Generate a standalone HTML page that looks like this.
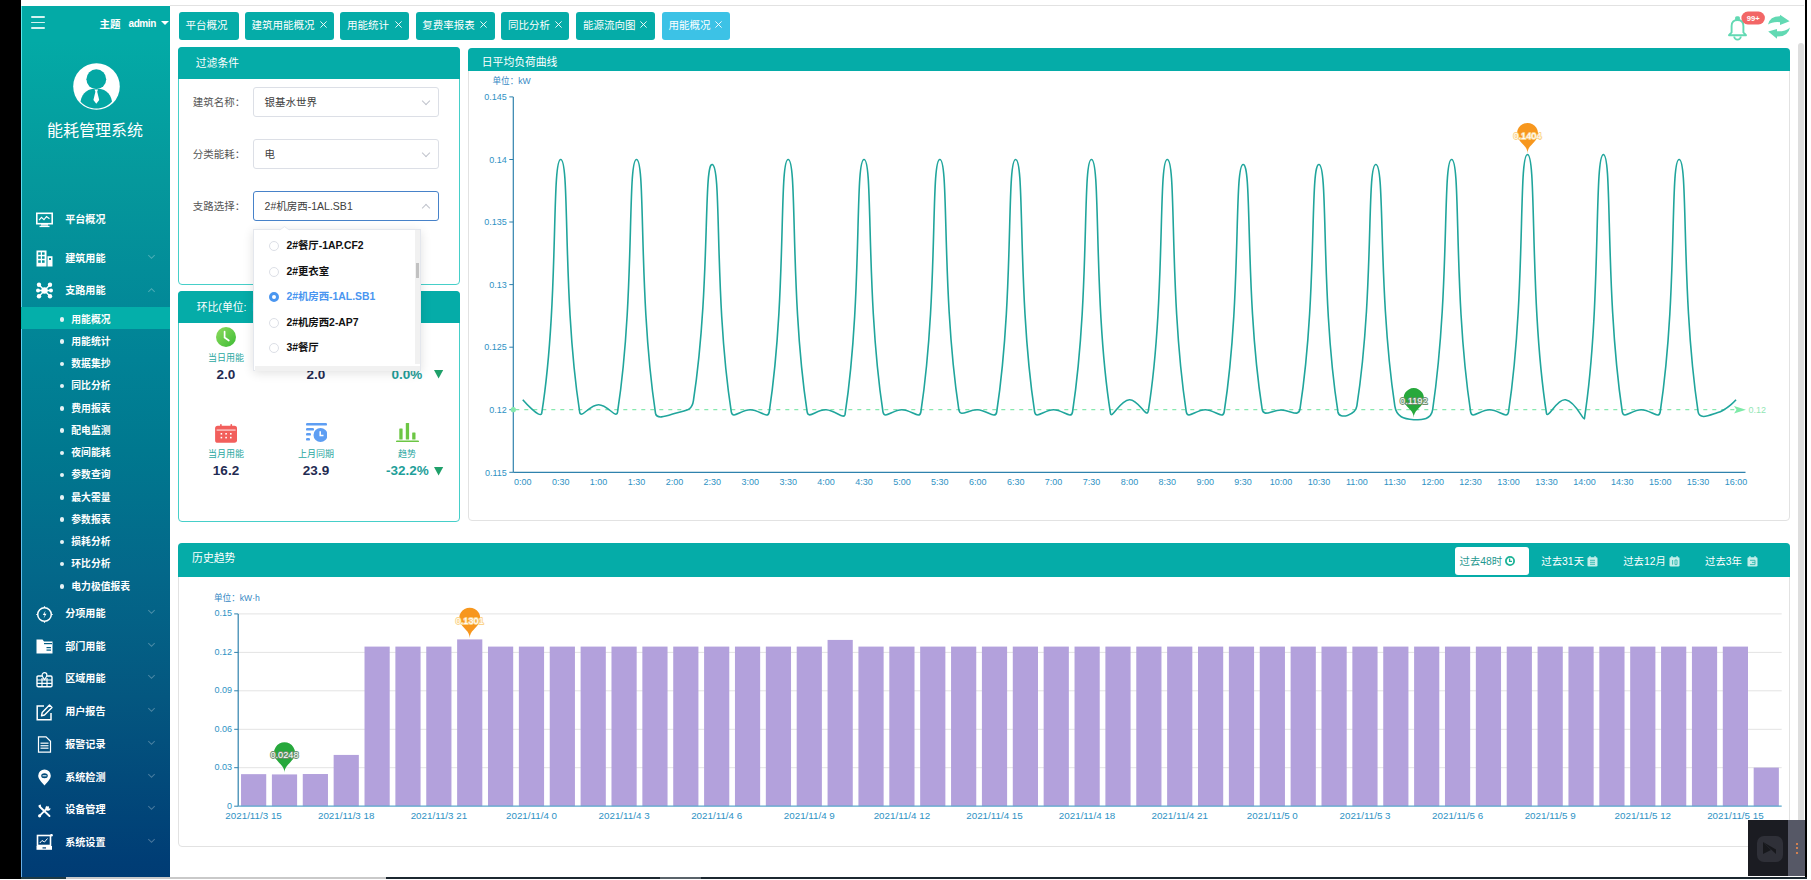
<!DOCTYPE html>
<html lang="zh-CN">
<head>
<meta charset="utf-8">
<title>能耗管理系统</title>
<style>
*{margin:0;padding:0;box-sizing:border-box;}
html,body{width:1811px;height:880px;overflow:hidden;background:#fff;}
body{position:relative;font-family:"Liberation Sans","Noto Sans CJK SC",sans-serif;color:#333;}
.abs{position:absolute;}
#lblack{left:0;top:0;width:21px;height:879px;background:#000;}
#rblack{left:1805px;top:0;width:2.3px;height:878px;background:#000;}
#topline{left:170px;top:5px;width:1634px;height:1px;background:#e2e2e2;}
#botline{left:21px;top:877px;width:364.5px;height:2px;background:#c9c9c9;}
#botline3{left:385.5px;top:877px;width:1421.5px;height:2px;background:#1c2830;}
#botline2{left:21px;top:877px;width:45px;height:2px;background:#1f3a44;}
#side{left:21px;top:6px;width:149px;height:871px;overflow:hidden;
  background:linear-gradient(180deg,#03aaa6 0%,#03aaa6 4%,#05989c 20%,#018296 40.6%,#00788f 51%,#03688a 64.8%,#045780 79.3%,#003d75 98.4%,#003c74 100%);}
#side .edge{left:0;top:0;width:1px;height:100%;background:linear-gradient(180deg,#5ee8ea 0%,#5ccff0 40%,#63b8ec 75%,#6aaee6 100%);}
.cw{color:#fff;}
.ham{left:10px;height:1.6px;width:14px;background:#d4f3f1;border-radius:1px;}
.sm{position:absolute;left:44.2px;font-size:10.1px;color:#fff;font-weight:bold;white-space:nowrap;line-height:14px;}
.ssub{position:absolute;left:50.3px;font-size:9.8px;color:#fff;font-weight:bold;white-space:nowrap;line-height:14px;}
.dot{position:absolute;left:38.5px;width:4.5px;height:4.5px;border-radius:50%;background:#e6f2f5;}
.chev{position:absolute;left:127.6px;width:5px;height:5px;border-right:1px solid rgba(255,255,255,.28);border-bottom:1px solid rgba(255,255,255,.28);transform:rotate(45deg);}
.chev.up{transform:rotate(-135deg);}
.ico{position:absolute;left:15px;width:17px;height:17px;}
/* tabs */
.tab{position:absolute;top:12px;height:27.5px;background:#05aca8;border-radius:3px;color:#fff;font-size:10.5px;line-height:27.5px;white-space:nowrap;}
.tab span{position:absolute;top:0;}
.tab .x{position:absolute;top:8.6px;}
/* cards */
.card{position:absolute;background:#fff;border-radius:4px;}
.card .hd{position:absolute;left:-1px;top:-1px;right:-1px;border-radius:4px 4px 0 0;background:#05aca8;color:#fff;font-size:10.8px;white-space:nowrap;}
.lbl{position:absolute;font-size:10.5px;color:#555;white-space:nowrap;line-height:14px;}
.inp{position:absolute;left:253px;width:185.5px;height:29.6px;border:1px solid #dcdfe6;border-radius:3px;background:#fff;font-size:10.5px;color:#404040;line-height:28px;padding-left:10.6px;white-space:nowrap;}
.inp .cv{position:absolute;left:168.5px;top:9.5px;width:6px;height:6px;border-right:1px solid #c0c4cc;border-bottom:1px solid #c0c4cc;transform:rotate(45deg);}
.inp .cv.up{top:13px;transform:rotate(-135deg);}
svg text{font-family:"Liberation Sans","Noto Sans CJK SC",sans-serif;}
.al{font-size:9px;fill:#2e92c4;}
.bl{font-size:9px;fill:#2e92c4;}
.xl{font-size:9.8px;fill:#2e92c4;}
.ml{font-size:9px;fill:#92e6b4;}
.pl{font-size:9.2px;fill:#fff;stroke-width:1.8px;paint-order:stroke;stroke-linejoin:round;}
.po{stroke:#fbd38a;}
.pg{stroke:#6b8f6e;}
.hv{position:absolute;font-size:13.5px;font-weight:bold;color:#1f2b52;white-space:nowrap;line-height:16px;text-align:center;}
.hl{position:absolute;font-size:9px;color:#2aa7a1;white-space:nowrap;line-height:12px;text-align:center;}
.dd{position:absolute;font-size:10.4px;font-weight:bold;color:#111;white-space:nowrap;line-height:14px;}
.rad{position:absolute;left:268.5px;width:10px;height:10px;border-radius:50%;border:1px solid #dcdfe6;background:#fff;}
.btn{position:absolute;top:547.8px;height:28px;font-size:10.4px;line-height:28px;color:#fff;white-space:nowrap;}
</style>
</head>
<body>
<div class="abs" id="lblack"></div>
<div class="abs" id="topline"></div>

<!-- ============ SIDEBAR ============ -->
<div class="abs" id="side">
  <div class="abs edge"></div>
  <div class="abs ham" style="top:10.2px"></div>
  <div class="abs ham" style="top:15.7px"></div>
  <div class="abs ham" style="top:21.2px"></div>
  <div class="abs cw" style="left:78.5px;top:10.8px;font-size:10.5px;font-weight:bold;line-height:14px;white-space:nowrap;">主题</div>
  <div class="abs cw" style="left:107.5px;top:11px;font-size:10px;font-weight:bold;line-height:14px;letter-spacing:-0.4px;">admin</div>
  <div class="abs" style="left:139.8px;top:15.2px;width:0;height:0;border-left:4px solid transparent;border-right:4px solid transparent;border-top:4.8px solid #fff;"></div>
  <!-- avatar -->
  <svg class="abs" style="left:51.5px;top:57px" width="47" height="47" viewBox="0 0 47 47">
    <circle cx="23.5" cy="23.5" r="23.3" fill="#fff"/>
    <circle cx="23.3" cy="16.2" r="9.9" fill="#04a7a4"/>
    <path d="M7.5,38.5 C9,29 16,25.5 23.3,25.5 C30.6,25.5 37.5,29 39,38.5 C35,43.2 29.5,45.5 23.3,45.5 C17,45.5 11.5,43.2 7.5,38.5Z" fill="#04a7a4"/>
    <path d="M21.5,26.5 L25,26.5 L24.2,28.8 L26.2,37 L23.3,40.8 L20.4,37 L22.4,28.8Z" fill="#fff"/>
  </svg>
  <div class="abs cw" style="left:26.1px;top:114.5px;font-size:16px;line-height:20px;white-space:nowrap;">能耗管理系统</div>

  <!-- menu -->
  <svg class="ico" style="top:205.5px" viewBox="0 0 17 17"><rect x="0.8" y="1.3" width="15.4" height="10.4" fill="none" stroke="#fff" stroke-width="1.6"/><path d="M3,8.2 L5.5,5.3 L8,7.6 L10.5,4.5 L13.5,6.8" fill="none" stroke="#fff" stroke-width="1.1"/><rect x="5" y="12.2" width="7" height="1.4" fill="#fff"/><rect x="3.5" y="13.8" width="10" height="1.3" fill="#fff"/></svg>
  <div class="sm" style="top:206.5px">平台概况</div>

  <svg class="ico" style="top:243.5px" viewBox="0 0 17 17"><path d="M0.5,0.5 H10.5 V16.5 H0.5Z" fill="#fff"/><rect x="2.2" y="2.3" width="2.6" height="2.5" fill="#04939b"/><rect x="6" y="2.3" width="2.6" height="2.5" fill="#04939b"/><rect x="2.2" y="6.3" width="2.6" height="2.5" fill="#04939b"/><rect x="6" y="6.3" width="2.6" height="2.5" fill="#04939b"/><rect x="2.2" y="10.3" width="2.6" height="2.5" fill="#04939b"/><rect x="6" y="10.3" width="2.6" height="2.5" fill="#04939b"/><rect x="11.5" y="6.2" width="5" height="10.3" fill="#fff"/><rect x="13" y="8" width="2" height="2" fill="#04939b"/></svg>
  <div class="sm" style="top:245.5px">建筑用能</div>
  <div class="chev" style="top:247px"></div>

  <svg class="ico" style="top:276px" viewBox="0 0 17 17"><g fill="#fff"><circle cx="3" cy="2.8" r="2.2"/><circle cx="14" cy="2.8" r="2.2"/><circle cx="2" cy="8.5" r="2"/><circle cx="15" cy="8.5" r="2"/><circle cx="3" cy="14.2" r="2.2"/><circle cx="14" cy="14.2" r="2.2"/><circle cx="8.5" cy="8.5" r="3.2"/></g><path d="M3,2.8 L8.5,8.5 L14,2.8 M2,8.5 H15 M3,14.2 L8.5,8.5 L14,14.2" stroke="#fff" stroke-width="1.3" fill="none"/></svg>
  <div class="sm" style="top:278px">支路用能</div>
  <div class="chev up" style="top:283px"></div>

  <div class="abs" style="left:0;top:300.5px;width:149px;height:22.3px;background:#04afaa;"></div>
  <div class="dot" style="top:311px"></div><div class="ssub" style="top:306.5px">用能概况</div>
  <div class="dot" style="top:333.3px"></div><div class="ssub" style="top:328.8px">用能统计</div>
  <div class="dot" style="top:355.6px"></div><div class="ssub" style="top:351.1px">数据集抄</div>
  <div class="dot" style="top:377.9px"></div><div class="ssub" style="top:373.4px">同比分析</div>
  <div class="dot" style="top:400.1px"></div><div class="ssub" style="top:395.6px">费用报表</div>
  <div class="dot" style="top:422.4px"></div><div class="ssub" style="top:417.9px">配电监测</div>
  <div class="dot" style="top:444.6px"></div><div class="ssub" style="top:440.1px">夜间能耗</div>
  <div class="dot" style="top:466.9px"></div><div class="ssub" style="top:462.4px">参数查询</div>
  <div class="dot" style="top:489.1px"></div><div class="ssub" style="top:484.6px">最大需量</div>
  <div class="dot" style="top:511.4px"></div><div class="ssub" style="top:506.9px">参数报表</div>
  <div class="dot" style="top:533.6px"></div><div class="ssub" style="top:529.1px">损耗分析</div>
  <div class="dot" style="top:555.9px"></div><div class="ssub" style="top:551.4px">环比分析</div>
  <div class="dot" style="top:578.1px"></div><div class="ssub" style="top:573.6px">电力极值报表</div>

  <svg class="ico" style="top:599.5px" viewBox="0 0 17 17"><circle cx="8.5" cy="8.5" r="6.8" fill="none" stroke="#fff" stroke-width="1.5"/><path d="M8.5,0.3 V2 M8.5,15 V16.7 M0.3,8.5 H2 M15,8.5 H16.7" stroke="#fff" stroke-width="1.2"/><path d="M9.6,4.6 L6.8,9.1 H8.7 L7.6,12.4 L10.5,7.8 H8.6Z" fill="#fff"/></svg>
  <div class="sm" style="top:601px">分项用能</div>
  <div class="chev" style="top:602px"></div>

  <svg class="ico" style="top:632px" viewBox="0 0 17 17"><path d="M0.5,1.5 H6.5 L8,3.5 H16.5 V15.5 H0.5Z" fill="#fff"/><rect x="8" y="5" width="8" height="1.2" fill="#035f85"/><rect x="10.5" y="9" width="4.5" height="1.2" fill="#035f85"/><rect x="10.5" y="11.5" width="4.5" height="1.2" fill="#035f85"/></svg>
  <div class="sm" style="top:633.7px">部门用能</div>
  <div class="chev" style="top:634.7px"></div>

  <svg class="ico" style="top:664.5px" viewBox="0 0 17 17"><path d="M6,5 H2.2 Q1,5 1,6.2 V14.6 Q1,15.8 2.2,15.8 H14.8 Q16,15.8 16,14.6 V6.2 Q16,5 14.8,5 H11" fill="none" stroke="#fff" stroke-width="1.4"/><path d="M1,9 H16 M1,12.4 H16 M6,7 V15.8 M11,7 V15.8" stroke="#fff" stroke-width="1.2"/><path d="M8.5,8.6 C7.2,6.8 6.1,5.6 6.1,4 A2.4,2.4 0 0 1 10.9,4 C10.9,5.6 9.8,6.8 8.5,8.6Z" fill="none" stroke="#fff" stroke-width="1.2"/></svg>
  <div class="sm" style="top:666.4px">区域用能</div>
  <div class="chev" style="top:667.4px"></div>

  <svg class="ico" style="top:697.5px" viewBox="0 0 17 17"><path d="M8,2 H1.2 V15.8 H15 V9" fill="none" stroke="#fff" stroke-width="1.5"/><path d="M13.5,1 L16,3.5 L8.5,11 L5.5,11.8 L6.2,8.5Z" fill="none" stroke="#fff" stroke-width="1.4" stroke-linejoin="round"/></svg>
  <div class="sm" style="top:699px">用户报告</div>
  <div class="chev" style="top:700px"></div>

  <svg class="ico" style="top:730px" viewBox="0 0 17 17"><path d="M2.5,0.8 H10 L14.5,5.3 V16.2 H2.5Z" fill="none" stroke="#fff" stroke-width="1.2"/><rect x="4.5" y="6.5" width="8" height="1.4" fill="#fff" opacity=".85"/><rect x="4.5" y="9" width="8" height="1.4" fill="#fff" opacity=".85"/><rect x="4.5" y="11.5" width="8" height="1.4" fill="#fff" opacity=".85"/></svg>
  <div class="sm" style="top:731.9px">报警记录</div>
  <div class="chev" style="top:732.9px"></div>

  <svg class="ico" style="top:762.5px" viewBox="0 0 17 17"><path d="M8.5,16.5 C5,12.5 2.2,9.8 2.2,6.8 A6.3,6.3 0 0 1 14.8,6.8 C14.8,9.8 12,12.5 8.5,16.5Z" fill="#fff"/><ellipse cx="8.5" cy="6.8" rx="3.3" ry="2.5" fill="#024c7b"/><rect x="6.5" y="6.3" width="4" height="1" fill="#fff"/></svg>
  <div class="sm" style="top:764.9px">系统检测</div>
  <div class="chev" style="top:765.9px"></div>

  <svg class="ico" style="top:795.5px" viewBox="0 0 17 17"><path d="M3.5,4.5 L13.5,14" stroke="#fff" stroke-width="1.9" stroke-linecap="round"/><path d="M2.2,3.2 L4.8,2.6 L5.2,5.4Z" fill="#fff"/><path d="M12.2,5.2 L4,13.4" stroke="#fff" stroke-width="1.9" stroke-linecap="round"/><path d="M11,3.8 A2.6,2.6 0 1 0 14.6,6.2 L13,6.4 L11.6,5 Z" fill="#fff"/><circle cx="3.6" cy="13.8" r="1.6" fill="#fff"/></svg>
  <div class="sm" style="top:797.1px">设备管理</div>
  <div class="chev" style="top:798.1px"></div>

  <svg class="ico" style="top:828px" viewBox="0 0 17 17"><rect x="1.5" y="1.5" width="13" height="10" fill="none" stroke="#fff" stroke-width="1.6"/><path d="M3.8,9 L6,6.5 L8.5,8 L11.5,4.5" stroke="#fff" stroke-width="1" fill="none"/><path d="M0.5,12 H16 V15.8 H0.5Z" fill="#fff"/><rect x="6.5" y="13.3" width="3.5" height="1.2" fill="#013f77"/><circle cx="15.5" cy="1.2" r="1.3" fill="#fff"/></svg>
  <div class="sm" style="top:830.1px">系统设置</div>
  <div class="chev" style="top:831.1px"></div>
</div>

<!-- ============ TABS ============ -->
<div class="tab" style="left:178.7px;width:60.2px;"><span style="left:6.8px">平台概况</span></div>
<div class="tab" style="left:244.7px;width:89.8px;"><span style="left:6.8px">建筑用能概况</span><svg class="x" style="left:75.2px" width="7" height="7" viewBox="0 0 7 7"><path d="M0.4,0.4 L6.6,6.6 M6.6,0.4 L0.4,6.6" stroke="#fff" stroke-width="0.9"/></svg></div>
<div class="tab" style="left:340.3px;width:69.2px;"><span style="left:6.8px">用能统计</span><svg class="x" style="left:54.6px" width="7" height="7" viewBox="0 0 7 7"><path d="M0.4,0.4 L6.6,6.6 M6.6,0.4 L0.4,6.6" stroke="#fff" stroke-width="0.9"/></svg></div>
<div class="tab" style="left:415.5px;width:79.3px;"><span style="left:6.8px">复费率报表</span><svg class="x" style="left:64.7px" width="7" height="7" viewBox="0 0 7 7"><path d="M0.4,0.4 L6.6,6.6 M6.6,0.4 L0.4,6.6" stroke="#fff" stroke-width="0.9"/></svg></div>
<div class="tab" style="left:501.2px;width:68.3px;"><span style="left:6.8px">同比分析</span><svg class="x" style="left:53.7px" width="7" height="7" viewBox="0 0 7 7"><path d="M0.4,0.4 L6.6,6.6 M6.6,0.4 L0.4,6.6" stroke="#fff" stroke-width="0.9"/></svg></div>
<div class="tab" style="left:576.2px;width:78.7px;"><span style="left:6.8px">能源流向图</span><svg class="x" style="left:64.1px" width="7" height="7" viewBox="0 0 7 7"><path d="M0.4,0.4 L6.6,6.6 M6.6,0.4 L0.4,6.6" stroke="#fff" stroke-width="0.9"/></svg></div>
<div class="tab" style="left:661.8px;width:68.2px;background:#3cc2e6;"><span style="left:6.8px">用能概况</span><svg class="x" style="left:53.6px" width="7" height="7" viewBox="0 0 7 7"><path d="M0.4,0.4 L6.6,6.6 M6.6,0.4 L0.4,6.6" stroke="#fff" stroke-width="0.9"/></svg></div>

<!-- bell & refresh -->
<svg class="abs" style="left:1724px;top:10px" width="70" height="32" viewBox="0 0 70 32">
  <path d="M5,25.2 L7.6,22.4 V16 C7.6,12.1 10,10 13.5,10 C17,10 19.4,12.1 19.4,16 V22.4 L22,25.2 Z" fill="none" stroke="#62d9b3" stroke-width="1.9" stroke-linejoin="round"/>
  <rect x="11.1" y="6.2" width="4.8" height="4.6" rx="1.6" fill="#62d9b3"/>
  <path d="M10.2,26.4 A3.3,3.3 0 0 0 16.8,26.4" fill="none" stroke="#62d9b3" stroke-width="1.8"/>
  <rect x="17.4" y="1.5" width="23.5" height="12.9" rx="6.45" fill="#f26666"/>
  <text x="29.2" y="10.8" text-anchor="middle" style="font-size:7.6px;font-weight:bold;fill:#fff;">99+</text>
  <path d="M44,14.6 Q45.8,6.2 56,6.3 L56,4.8 L65.6,11.3 L56,15 L56,12.2 Q48,11.6 44,14.6Z" fill="#62d9b3"/>
  <path d="M66,17.4 Q64.2,26.6 53,26.5 L53,28.8 L44.2,21.4 L53,18.9 L53,21.3 Q61.5,21.6 66,17.4Z" fill="#62d9b3"/>
</svg>

<!-- scrollbar -->
<div class="abs" style="left:1797.8px;top:43.4px;width:6px;height:833px;background:#dedede;border-radius:3px 3px 0 0;"></div>
<div class="abs" id="rblack"></div>

<!-- ============ FILTER CARD ============ -->
<div class="card" style="left:178px;top:47.3px;width:282px;height:237.9px;border:1px solid #46cfc9;">
  <div class="hd" style="height:32px;line-height:33.5px;padding-left:17.8px;">过滤条件</div>
</div>
<div class="lbl" style="left:192.8px;top:94.8px;">建筑名称：</div>
<div class="inp" style="top:87px;">银基水世界<div class="cv"></div></div>
<div class="lbl" style="left:192.8px;top:146.8px;">分类能耗：</div>
<div class="inp" style="top:139px;">电<div class="cv"></div></div>
<div class="lbl" style="left:192.8px;top:198.8px;">支路选择：</div>
<div class="inp" style="top:191px;border-color:#4782c9;">2#机房西-1AL.SB1<div class="cv up"></div></div>

<!-- ============ 环比 CARD ============ -->
<div class="card" style="left:178px;top:290.8px;width:282px;height:231px;border:1px solid #46cfc9;">
  <div class="hd" style="height:32px;line-height:32px;padding-left:18.7px;">环比(单位:<span style="margin-left:6px">kWh)</span></div>
</div>
<!-- icons row 1 -->
<svg class="abs" style="left:216px;top:327px" width="20" height="20" viewBox="0 0 20 20"><defs><linearGradient id="gclk" x1="0" y1="0" x2="1" y2="1"><stop offset="0" stop-color="#8fdc5e"/><stop offset="1" stop-color="#3cbb35"/></linearGradient></defs><circle cx="10" cy="10" r="10" fill="url(#gclk)"/><path d="M8.6,4.5 V10.5 L12.8,13.5" fill="none" stroke="#fff" stroke-width="1.7" stroke-linecap="round"/></svg>
<div class="hl" style="left:196px;width:60px;top:351.7px;">当日用能</div>
<div class="hv" style="left:196px;width:60px;top:367px;">2.0</div>
<div class="hl" style="left:286px;width:60px;top:351.7px;">上日用能</div>
<div class="hv" style="left:286px;width:60px;top:367px;">2.0</div>
<div class="hv" style="left:391.5px;top:367px;color:#1fa09a;">0.0%</div>
<svg class="abs" style="left:434px;top:370px" width="10" height="9" viewBox="0 0 10 9"><path d="M0,0 H9.2 L4.6,8.4Z" fill="#1fa06a"/></svg>

<!-- icons row 2 -->
<svg class="abs" style="left:215px;top:423.5px" width="22.2" height="19" viewBox="0 0 22 19"><rect x="0" y="1.8" width="22" height="17" rx="2.6" fill="#f25f5c"/><rect x="5" y="0" width="1.6" height="4" rx=".8" fill="#f25f5c"/><rect x="15.4" y="0" width="1.6" height="4" rx=".8" fill="#f25f5c"/><rect x="1.5" y="5.6" width="19" height="0.9" fill="#fff"/><g fill="#fff"><rect x="5.5" y="9" width="1.6" height="1.6"/><rect x="10.2" y="9" width="1.6" height="1.6"/><rect x="14.9" y="9" width="1.6" height="1.6"/><rect x="5.5" y="12.8" width="1.6" height="1.6"/><rect x="10.2" y="12.8" width="1.6" height="1.6"/><rect x="14.9" y="12.8" width="1.6" height="1.6"/></g></svg>
<div class="hl" style="left:196px;width:60px;top:447.6px;">当月用能</div>
<div class="hv" style="left:196px;width:60px;top:463px;">16.2</div>

<svg class="abs" style="left:305.5px;top:422.5px" width="21.5" height="20" viewBox="0 0 21.5 20"><rect x="0" y="0" width="21" height="2.6" rx="1.2" fill="#5e9ef3"/><rect x="0" y="5" width="8" height="2.6" rx="1.2" fill="#5e9ef3"/><rect x="0" y="10" width="5" height="2.6" rx="1.2" fill="#5e9ef3"/><rect x="0" y="15" width="4" height="2.6" rx="1.2" fill="#5e9ef3"/><circle cx="14.5" cy="12" r="7" fill="#5e9ef3"/><path d="M14.2,8.3 V12.4 H17.5" fill="none" stroke="#fff" stroke-width="1.5"/></svg>
<div class="hl" style="left:286px;width:60px;top:447.6px;">上月同期</div>
<div class="hv" style="left:286px;width:60px;top:463px;">23.9</div>

<svg class="abs" style="left:396px;top:422.5px" width="23" height="19.5" viewBox="0 0 23 19.5"><g fill="#6cc644"><rect x="3.3" y="5.5" width="3.3" height="11" rx=".5"/><rect x="9.8" y="0" width="3.3" height="16.5" rx=".5"/><rect x="16.2" y="9.5" width="3.3" height="7" rx=".5"/><rect x="0" y="17.5" width="23" height="2" rx="1"/></g></svg>
<div class="hl" style="left:377px;width:60px;top:447.6px;">趋势</div>
<div class="hv" style="left:386px;top:463px;color:#1fa09a;">-32.2%</div>
<svg class="abs" style="left:434px;top:466.5px" width="10" height="9" viewBox="0 0 10 9"><path d="M0,0 H9.2 L4.6,8.4Z" fill="#1fa06a"/></svg>

<!-- ============ LINE CHART CARD ============ -->
<div class="card" style="left:467.8px;top:48.2px;width:1322.5px;height:473.3px;border:1px solid #e2e2e2;">
  <div class="hd" style="height:22.5px;line-height:29px;padding-left:14px;">日平均负荷曲线</div>
</div>
<div class="abs" style="left:492.5px;top:74.5px;font-size:8.6px;color:#3588c4;line-height:12px;white-space:nowrap;">单位：kW</div>

<!-- ============ HISTORY CARD ============ -->
<div class="card" style="left:177.8px;top:543.4px;width:1612px;height:303.7px;border:1px solid #e2e2e2;">
  <div class="hd" style="height:33.2px;line-height:31px;padding-left:14.3px;">历史趋势</div>
</div>
<div class="abs" style="left:1455.2px;top:547px;width:74.3px;height:28px;background:#fff;border-radius:3px;"></div>
<div class="btn" style="left:1459.5px;color:#1f9890;">过去48时</div>
<svg class="abs" style="left:1504.5px;top:556px" width="10" height="10" viewBox="0 0 10 10"><circle cx="5" cy="5" r="4.1" fill="none" stroke="#1cb397" stroke-width="1.8"/><path d="M4.6,2.6 V5.4 H7" fill="none" stroke="#1cb397" stroke-width="1.3"/></svg>
<div class="btn" style="left:1541.3px;">过去31天</div>
<div class="btn" style="left:1623.2px;">过去12月</div>
<div class="btn" style="left:1705px;">过去3年</div>
<svg class="abs" style="left:1586.5px;top:555.5px" width="11" height="11" viewBox="0 0 11 11"><rect x=".5" y="1.3" width="10" height="9.2" rx="1.3" fill="#c4eeea"/><rect x="2.3" y="0" width="1.3" height="2.6" rx=".6" fill="#c4eeea"/><rect x="7.4" y="0" width="1.3" height="2.6" rx=".6" fill="#c4eeea"/><path d="M3,4.3 H8 M3,6.3 H8 M3,8.3 H8" stroke="#3cbcb4" stroke-width="1"/></svg>
<svg class="abs" style="left:1668.5px;top:555.5px" width="11" height="11" viewBox="0 0 11 11"><rect x=".5" y="1.3" width="10" height="9.2" rx="1.3" fill="#c4eeea"/><rect x="2.3" y="0" width="1.3" height="2.6" rx=".6" fill="#c4eeea"/><rect x="7.4" y="0" width="1.3" height="2.6" rx=".6" fill="#c4eeea"/><path d="M3.6,4 V8.6 M6,4 H8 V8.6 H6Z" stroke="#3cbcb4" stroke-width="1" fill="none"/></svg>
<svg class="abs" style="left:1746.5px;top:555.5px" width="11" height="11" viewBox="0 0 11 11"><rect x=".5" y="1.3" width="10" height="9.2" rx="1.3" fill="#c4eeea"/><rect x="2.3" y="0" width="1.3" height="2.6" rx=".6" fill="#c4eeea"/><rect x="7.4" y="0" width="1.3" height="2.6" rx=".6" fill="#c4eeea"/><path d="M3,4.3 H8 V8.6 H3 M5,6.4 H8" stroke="#3cbcb4" stroke-width="1" fill="none"/></svg>
<div class="abs" style="left:214px;top:591.5px;font-size:8.6px;color:#3588c4;line-height:12px;white-space:nowrap;">单位：kW·h</div>

<!-- ============ CHART SVG ============ -->
<svg class="abs" style="left:0;top:0;" width="1811" height="880" viewBox="0 0 1811 880">
<line x1="509.3" y1="96.9" x2="513.3" y2="96.9" stroke="#2f82ad" stroke-width="1"/>
<text x="506.8" y="100.1" text-anchor="end" class="al">0.145</text>
<line x1="509.3" y1="159.5" x2="513.3" y2="159.5" stroke="#2f82ad" stroke-width="1"/>
<text x="506.8" y="162.7" text-anchor="end" class="al">0.14</text>
<line x1="509.3" y1="222.0" x2="513.3" y2="222.0" stroke="#2f82ad" stroke-width="1"/>
<text x="506.8" y="225.2" text-anchor="end" class="al">0.135</text>
<line x1="509.3" y1="284.6" x2="513.3" y2="284.6" stroke="#2f82ad" stroke-width="1"/>
<text x="506.8" y="287.8" text-anchor="end" class="al">0.13</text>
<line x1="509.3" y1="347.2" x2="513.3" y2="347.2" stroke="#2f82ad" stroke-width="1"/>
<text x="506.8" y="350.4" text-anchor="end" class="al">0.125</text>
<line x1="509.3" y1="409.7" x2="513.3" y2="409.7" stroke="#2f82ad" stroke-width="1"/>
<text x="506.8" y="412.9" text-anchor="end" class="al">0.12</text>
<line x1="509.3" y1="472.3" x2="513.3" y2="472.3" stroke="#2f82ad" stroke-width="1"/>
<text x="506.8" y="475.5" text-anchor="end" class="al">0.115</text>
<text x="522.8" y="485.3" text-anchor="middle" class="al">0:00</text>
<text x="560.7" y="485.3" text-anchor="middle" class="al">0:30</text>
<text x="598.6" y="485.3" text-anchor="middle" class="al">1:00</text>
<text x="636.5" y="485.3" text-anchor="middle" class="al">1:30</text>
<text x="674.4" y="485.3" text-anchor="middle" class="al">2:00</text>
<text x="712.3" y="485.3" text-anchor="middle" class="al">2:30</text>
<text x="750.3" y="485.3" text-anchor="middle" class="al">3:00</text>
<text x="788.2" y="485.3" text-anchor="middle" class="al">3:30</text>
<text x="826.1" y="485.3" text-anchor="middle" class="al">4:00</text>
<text x="864.0" y="485.3" text-anchor="middle" class="al">4:30</text>
<text x="901.9" y="485.3" text-anchor="middle" class="al">5:00</text>
<text x="939.8" y="485.3" text-anchor="middle" class="al">5:30</text>
<text x="977.7" y="485.3" text-anchor="middle" class="al">6:00</text>
<text x="1015.7" y="485.3" text-anchor="middle" class="al">6:30</text>
<text x="1053.6" y="485.3" text-anchor="middle" class="al">7:00</text>
<text x="1091.5" y="485.3" text-anchor="middle" class="al">7:30</text>
<text x="1129.4" y="485.3" text-anchor="middle" class="al">8:00</text>
<text x="1167.3" y="485.3" text-anchor="middle" class="al">8:30</text>
<text x="1205.2" y="485.3" text-anchor="middle" class="al">9:00</text>
<text x="1243.1" y="485.3" text-anchor="middle" class="al">9:30</text>
<text x="1281.1" y="485.3" text-anchor="middle" class="al">10:00</text>
<text x="1319.0" y="485.3" text-anchor="middle" class="al">10:30</text>
<text x="1356.9" y="485.3" text-anchor="middle" class="al">11:00</text>
<text x="1394.8" y="485.3" text-anchor="middle" class="al">11:30</text>
<text x="1432.7" y="485.3" text-anchor="middle" class="al">12:00</text>
<text x="1470.6" y="485.3" text-anchor="middle" class="al">12:30</text>
<text x="1508.5" y="485.3" text-anchor="middle" class="al">13:00</text>
<text x="1546.5" y="485.3" text-anchor="middle" class="al">13:30</text>
<text x="1584.4" y="485.3" text-anchor="middle" class="al">14:00</text>
<text x="1622.3" y="485.3" text-anchor="middle" class="al">14:30</text>
<text x="1660.2" y="485.3" text-anchor="middle" class="al">15:00</text>
<text x="1698.1" y="485.3" text-anchor="middle" class="al">15:30</text>
<text x="1736.0" y="485.3" text-anchor="middle" class="al">16:00</text>
<line x1="513.3" y1="96.9" x2="513.3" y2="472.3" stroke="#2f82ad" stroke-width="1.2"/>
<line x1="513.3" y1="472.3" x2="1745.5" y2="472.3" stroke="#2f82ad" stroke-width="1.2"/>
<line x1="515.3" y1="409.7" x2="1738" y2="409.7" stroke="#86e8ae" stroke-width="1.2" stroke-dasharray="4,5"/>
<circle cx="513.3" cy="409.7" r="2.6" fill="#86e8ae"/>
<path d="M1734,405.9 L1746,409.7 L1734,413.5 L1736.5,409.7Z" fill="#7eeaa8"/>
<text x="1748.5" y="413.0" class="ml">0.12</text>
<path d="M522.78,399.72C522.78,399.72 540.15,419.75 541.74,413.24C559.10,303.18 551.19,159.79 560.69,159.47C570.15,159.16 562.10,298.46 579.65,411.99C581.06,419.75 589.13,404.73 598.61,404.73C608.08,404.73 616.16,419.75 617.56,411.99C635.11,298.46 627.06,159.16 636.52,159.47C646.02,159.79 637.83,295.04 655.48,413.24C656.79,419.75 665.81,416.28 674.43,413.49C684.77,410.15 691.73,411.85 693.39,400.98C710.69,287.35 703.08,161.79 712.35,164.48C722.04,167.30 713.70,298.12 731.30,411.99C732.66,419.75 740.78,409.74 750.26,409.74C759.74,409.74 767.89,419.75 769.22,411.99C786.85,295.63 778.70,159.47 788.18,159.47C797.65,159.47 789.50,295.63 807.13,411.99C808.46,419.75 816.72,409.12 826.09,409.74C835.68,410.37 843.70,419.75 845.05,414.49C862.66,298.24 854.48,160.10 864.00,159.47C873.44,158.85 865.33,295.63 882.96,411.99C884.29,419.75 892.44,409.74 901.92,409.74C911.40,409.74 919.54,419.75 920.87,411.99C938.50,295.63 930.31,160.10 939.83,159.47C949.26,158.85 941.16,293.15 958.79,409.48C960.12,418.28 968.30,409.11 977.74,409.74C987.26,410.36 995.37,419.75 996.70,411.99C1014.33,295.63 1006.18,159.47 1015.66,159.47C1025.14,159.47 1016.99,295.63 1034.62,411.99C1035.94,419.75 1044.09,409.74 1053.57,409.74C1063.05,409.74 1071.20,419.75 1072.53,411.99C1090.16,295.63 1082.03,159.16 1091.49,159.47C1100.99,159.79 1093.08,303.18 1110.44,413.24C1112.03,419.75 1119.64,400.37 1129.40,399.72C1138.59,399.12 1146.84,419.75 1148.36,410.74C1165.80,300.23 1157.86,159.16 1167.31,159.47C1176.82,159.79 1168.64,295.63 1186.27,411.99C1187.60,419.75 1195.75,409.74 1205.23,409.74C1214.71,409.74 1222.83,419.75 1224.18,411.99C1241.79,298.12 1233.61,165.24 1243.14,164.48C1252.56,163.73 1244.50,295.05 1262.10,408.98C1263.46,417.80 1271.58,409.99 1281.06,409.99C1290.53,409.99 1298.65,417.80 1300.01,408.98C1317.61,295.05 1309.55,163.73 1318.97,164.48C1328.51,165.24 1320.38,300.19 1337.93,411.99C1339.33,419.75 1355.44,415.37 1356.88,405.98C1374.40,291.62 1366.36,164.48 1375.84,164.48C1385.32,164.48 1377.51,289.60 1394.80,405.98C1396.47,417.24 1403.88,418.83 1413.75,419.75C1422.84,419.75 1431.21,419.75 1432.71,409.48C1450.17,289.65 1442.24,158.85 1451.67,159.47C1461.19,160.10 1453.00,295.63 1470.62,411.99C1471.95,419.75 1480.10,409.74 1489.58,409.74C1499.06,409.74 1507.23,419.75 1508.54,411.99C1526.19,293.14 1518.04,154.47 1527.50,154.47C1537.00,154.78 1529.06,300.71 1546.45,413.24C1548.01,419.75 1556.62,398.42 1565.41,399.72C1575.58,401.23 1582.62,419.75 1584.37,418.87C1601.57,307.56 1593.72,156.21 1603.32,154.47C1612.68,154.47 1604.63,293.14 1622.28,411.99C1623.59,419.75 1631.76,409.74 1641.24,409.74C1650.72,409.74 1658.86,419.75 1660.19,411.99C1677.82,295.63 1669.67,159.47 1679.15,159.47C1688.63,159.47 1680.47,294.13 1698.11,411.99C1699.43,419.75 1708.51,415.63 1717.06,412.86C1727.46,409.50 1736.02,399.72 1736.02,399.72" fill="none" stroke="#20a59c" stroke-width="1.6" stroke-linejoin="round"/>
<path d="M1518.01,137.97 A10.50,10.50 0 1 1 1536.98,137.97 C1534.28,143.66 1527.50,146.12 1527.50,153.47 C1527.50,146.12 1520.71,143.66 1518.01,137.97Z" fill="#f7971e"/>
<text x="1527.5" y="138.9" text-anchor="middle" class="pl po">0.1404</text>
<path d="M1404.54,402.69 A10.20,10.20 0 1 1 1422.97,402.69 C1420.35,408.22 1413.75,410.61 1413.75,417.75 C1413.75,410.61 1407.16,408.22 1404.54,402.69Z" fill="#27a83c"/>
<text x="1413.8" y="403.7" text-anchor="middle" class="pl pg">0.1192</text>
<line x1="238.2" y1="613.9" x2="1781.7" y2="613.9" stroke="#e3e3e3" stroke-width="1"/>
<line x1="234.2" y1="613.9" x2="238.2" y2="613.9" stroke="#2f82ad" stroke-width="1"/>
<text x="232" y="616.2" text-anchor="end" class="bl">0.15</text>
<line x1="238.2" y1="652.4" x2="1781.7" y2="652.4" stroke="#e3e3e3" stroke-width="1"/>
<line x1="234.2" y1="652.4" x2="238.2" y2="652.4" stroke="#2f82ad" stroke-width="1"/>
<text x="232" y="654.7" text-anchor="end" class="bl">0.12</text>
<line x1="238.2" y1="690.8" x2="1781.7" y2="690.8" stroke="#e3e3e3" stroke-width="1"/>
<line x1="234.2" y1="690.8" x2="238.2" y2="690.8" stroke="#2f82ad" stroke-width="1"/>
<text x="232" y="693.1" text-anchor="end" class="bl">0.09</text>
<line x1="238.2" y1="729.3" x2="1781.7" y2="729.3" stroke="#e3e3e3" stroke-width="1"/>
<line x1="234.2" y1="729.3" x2="238.2" y2="729.3" stroke="#2f82ad" stroke-width="1"/>
<text x="232" y="731.6" text-anchor="end" class="bl">0.06</text>
<line x1="238.2" y1="767.7" x2="1781.7" y2="767.7" stroke="#e3e3e3" stroke-width="1"/>
<line x1="234.2" y1="767.7" x2="238.2" y2="767.7" stroke="#2f82ad" stroke-width="1"/>
<text x="232" y="770.0" text-anchor="end" class="bl">0.03</text>
<line x1="234.2" y1="806.2" x2="238.2" y2="806.2" stroke="#2f82ad" stroke-width="1"/>
<text x="232" y="808.5" text-anchor="end" class="bl">0</text>
<rect x="241.03" y="774.15" width="25.2" height="32.05" fill="#b3a1dc"/>
<rect x="271.90" y="774.41" width="25.2" height="31.79" fill="#b3a1dc"/>
<rect x="302.77" y="774.02" width="25.2" height="32.18" fill="#b3a1dc"/>
<rect x="333.64" y="754.92" width="25.2" height="51.28" fill="#b3a1dc"/>
<rect x="364.51" y="646.59" width="25.2" height="159.61" fill="#b3a1dc"/>
<rect x="395.38" y="646.59" width="25.2" height="159.61" fill="#b3a1dc"/>
<rect x="426.25" y="646.59" width="25.2" height="159.61" fill="#b3a1dc"/>
<rect x="457.12" y="639.41" width="25.2" height="166.79" fill="#b3a1dc"/>
<rect x="487.99" y="646.59" width="25.2" height="159.61" fill="#b3a1dc"/>
<rect x="518.87" y="646.59" width="25.2" height="159.61" fill="#b3a1dc"/>
<rect x="549.74" y="646.59" width="25.2" height="159.61" fill="#b3a1dc"/>
<rect x="580.61" y="646.59" width="25.2" height="159.61" fill="#b3a1dc"/>
<rect x="611.48" y="646.59" width="25.2" height="159.61" fill="#b3a1dc"/>
<rect x="642.35" y="646.59" width="25.2" height="159.61" fill="#b3a1dc"/>
<rect x="673.22" y="646.59" width="25.2" height="159.61" fill="#b3a1dc"/>
<rect x="704.09" y="646.59" width="25.2" height="159.61" fill="#b3a1dc"/>
<rect x="734.96" y="646.59" width="25.2" height="159.61" fill="#b3a1dc"/>
<rect x="765.83" y="646.59" width="25.2" height="159.61" fill="#b3a1dc"/>
<rect x="796.69" y="646.59" width="25.2" height="159.61" fill="#b3a1dc"/>
<rect x="827.57" y="639.92" width="25.2" height="166.28" fill="#b3a1dc"/>
<rect x="858.43" y="646.59" width="25.2" height="159.61" fill="#b3a1dc"/>
<rect x="889.31" y="646.59" width="25.2" height="159.61" fill="#b3a1dc"/>
<rect x="920.17" y="646.59" width="25.2" height="159.61" fill="#b3a1dc"/>
<rect x="951.05" y="646.59" width="25.2" height="159.61" fill="#b3a1dc"/>
<rect x="981.91" y="646.59" width="25.2" height="159.61" fill="#b3a1dc"/>
<rect x="1012.79" y="646.59" width="25.2" height="159.61" fill="#b3a1dc"/>
<rect x="1043.65" y="646.59" width="25.2" height="159.61" fill="#b3a1dc"/>
<rect x="1074.53" y="646.59" width="25.2" height="159.61" fill="#b3a1dc"/>
<rect x="1105.39" y="646.59" width="25.2" height="159.61" fill="#b3a1dc"/>
<rect x="1136.27" y="646.59" width="25.2" height="159.61" fill="#b3a1dc"/>
<rect x="1167.13" y="646.59" width="25.2" height="159.61" fill="#b3a1dc"/>
<rect x="1198.01" y="646.59" width="25.2" height="159.61" fill="#b3a1dc"/>
<rect x="1228.88" y="646.59" width="25.2" height="159.61" fill="#b3a1dc"/>
<rect x="1259.75" y="646.59" width="25.2" height="159.61" fill="#b3a1dc"/>
<rect x="1290.62" y="646.59" width="25.2" height="159.61" fill="#b3a1dc"/>
<rect x="1321.49" y="646.59" width="25.2" height="159.61" fill="#b3a1dc"/>
<rect x="1352.36" y="646.59" width="25.2" height="159.61" fill="#b3a1dc"/>
<rect x="1383.23" y="646.59" width="25.2" height="159.61" fill="#b3a1dc"/>
<rect x="1414.10" y="646.59" width="25.2" height="159.61" fill="#b3a1dc"/>
<rect x="1444.97" y="646.59" width="25.2" height="159.61" fill="#b3a1dc"/>
<rect x="1475.84" y="646.59" width="25.2" height="159.61" fill="#b3a1dc"/>
<rect x="1506.71" y="646.59" width="25.2" height="159.61" fill="#b3a1dc"/>
<rect x="1537.58" y="646.59" width="25.2" height="159.61" fill="#b3a1dc"/>
<rect x="1568.45" y="646.59" width="25.2" height="159.61" fill="#b3a1dc"/>
<rect x="1599.32" y="646.59" width="25.2" height="159.61" fill="#b3a1dc"/>
<rect x="1630.19" y="646.59" width="25.2" height="159.61" fill="#b3a1dc"/>
<rect x="1661.06" y="646.59" width="25.2" height="159.61" fill="#b3a1dc"/>
<rect x="1691.93" y="646.59" width="25.2" height="159.61" fill="#b3a1dc"/>
<rect x="1722.80" y="646.59" width="25.2" height="159.61" fill="#b3a1dc"/>
<rect x="1753.67" y="767.61" width="25.2" height="38.59" fill="#b3a1dc"/>
<text x="253.6" y="818.9" text-anchor="middle" class="xl">2021/11/3 15</text>
<text x="346.2" y="818.9" text-anchor="middle" class="xl">2021/11/3 18</text>
<text x="438.9" y="818.9" text-anchor="middle" class="xl">2021/11/3 21</text>
<text x="531.5" y="818.9" text-anchor="middle" class="xl">2021/11/4 0</text>
<text x="624.1" y="818.9" text-anchor="middle" class="xl">2021/11/4 3</text>
<text x="716.7" y="818.9" text-anchor="middle" class="xl">2021/11/4 6</text>
<text x="809.3" y="818.9" text-anchor="middle" class="xl">2021/11/4 9</text>
<text x="901.9" y="818.9" text-anchor="middle" class="xl">2021/11/4 12</text>
<text x="994.5" y="818.9" text-anchor="middle" class="xl">2021/11/4 15</text>
<text x="1087.1" y="818.9" text-anchor="middle" class="xl">2021/11/4 18</text>
<text x="1179.7" y="818.9" text-anchor="middle" class="xl">2021/11/4 21</text>
<text x="1272.3" y="818.9" text-anchor="middle" class="xl">2021/11/5 0</text>
<text x="1365.0" y="818.9" text-anchor="middle" class="xl">2021/11/5 3</text>
<text x="1457.6" y="818.9" text-anchor="middle" class="xl">2021/11/5 6</text>
<text x="1550.2" y="818.9" text-anchor="middle" class="xl">2021/11/5 9</text>
<text x="1642.8" y="818.9" text-anchor="middle" class="xl">2021/11/5 12</text>
<text x="1735.4" y="818.9" text-anchor="middle" class="xl">2021/11/5 15</text>
<line x1="238.2" y1="613.9" x2="238.2" y2="806.2" stroke="#2f82ad" stroke-width="1.2"/>
<line x1="238.2" y1="806.2" x2="1781.7" y2="806.2" stroke="#5aa8cc" stroke-width="1.2"/>
<path d="M460.24,622.71 A10.50,10.50 0 1 1 479.21,622.71 C476.51,628.40 469.73,630.86 469.73,638.21 C469.73,630.86 462.94,628.40 460.24,622.71Z" fill="#f7971e"/>
<text x="469.7" y="623.6" text-anchor="middle" class="pl po">0.1301</text>
<path d="M275.02,757.31 A10.50,10.50 0 1 1 293.99,757.31 C291.29,763.00 284.50,765.46 284.50,772.81 C284.50,765.46 277.72,763.00 275.02,757.31Z" fill="#27a83c"/>
<text x="284.5" y="758.2" text-anchor="middle" class="pl pg">0.0248</text>
</svg>

<!-- ============ DROPDOWN ============ -->
<div class="abs" style="left:253px;top:228.8px;width:167.5px;height:142.2px;background:#fff;border:1px solid #e4e7ed;box-shadow:0 2px 10px rgba(0,0,0,.12);">
</div>
<div class="abs" style="left:414.8px;top:229.8px;width:5.6px;height:134.7px;background:#f1f1f1;"></div>
<svg class="abs" style="left:279px;top:225.5px" width="11" height="5" viewBox="0 0 11 5"><path d="M0,4.6 L5.5,0.6 L11,4.6" fill="#fff" stroke="#e4e7ed" stroke-width="0.9"/><rect x="0" y="4.3" width="11" height="1" fill="#fff"/></svg>
<div class="abs" style="left:416px;top:262.7px;width:3.2px;height:15.3px;background:#c1c1c1;"></div>
<div class="abs" style="left:254.5px;top:365.5px;width:165.8px;height:5.5px;background:#f1f1f1;"></div>
<div class="rad" style="top:241.4px"></div><div class="dd" style="left:286.4px;top:239.4px">2#餐厅-1AP.CF2</div>
<div class="rad" style="top:266.9px"></div><div class="dd" style="left:286.4px;top:264.9px">2#更衣室</div>
<div class="rad" style="top:291.6px;border:3.3px solid #4a96f0;"></div><div class="dd" style="left:286.4px;top:289.6px;color:#4a96f0;">2#机房西-1AL.SB1</div>
<div class="rad" style="top:317.8px"></div><div class="dd" style="left:286.4px;top:315.8px">2#机房西2-AP7</div>
<div class="rad" style="top:342.9px"></div><div class="dd" style="left:286.4px;top:340.9px">3#餐厅</div>

<!-- ============ BOTTOM RIGHT WIDGET ============ -->
<div class="abs" style="left:1748px;top:820px;width:57px;height:56px;background:#1b1c22;"></div>
<div class="abs" style="left:1788px;top:820px;width:17px;height:56px;background:#565866;"></div>
<div class="abs" style="left:1756.5px;top:835.5px;width:26.5px;height:26.5px;background:#2f3038;border-radius:7px;"></div>
<svg class="abs" style="left:1762px;top:841px" width="16" height="15" viewBox="0 0 16 15"><path d="M1,1 L14,8.5 L14,13 Z" fill="#17181c"/><path d="M1,1 L9,9 L1,13Z" fill="#17181c"/></svg>
<div class="abs" style="left:1795.5px;top:842.5px;width:2px;height:2px;background:#d08050;"></div>
<div class="abs" style="left:1795.5px;top:847px;width:2px;height:2px;background:#d08050;"></div>
<div class="abs" style="left:1795.5px;top:851.5px;width:2px;height:2px;background:#d08050;"></div>
<div class="abs" id="botline"></div>
<div class="abs" id="botline2"></div>
<div class="abs" id="botline3"></div>
<div class="abs" style="left:660px;top:877px;width:41px;height:2px;background:#59636a;"></div>
</body>
</html>
